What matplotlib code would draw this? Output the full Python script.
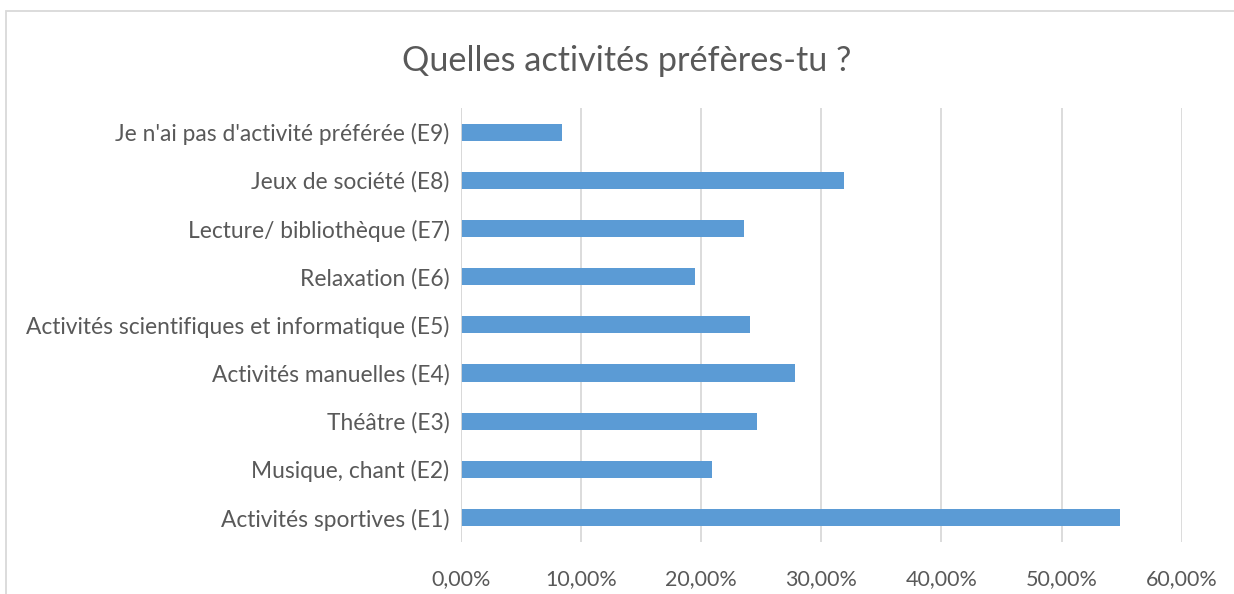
import matplotlib
matplotlib.use("Agg")
import matplotlib.pyplot as plt
from matplotlib.patches import Rectangle
from matplotlib.ticker import FuncFormatter, MultipleLocator

# data, bottom to top
categories = [
    "Activités sportives (E1)",
    "Musique, chant (E2)",
    "Théâtre (E3)",
    "Activités manuelles (E4)",
    "Activités scientifiques et informatique (E5)",
    "Relaxation (E6)",
    "Lecture/ bibliothèque (E7)",
    "Jeux de société (E8)",
    "Je n'ai pas d'activité préférée (E9)",
]
shares = [0.5485, 0.2093, 0.2470, 0.2784, 0.2410, 0.1949, 0.2357, 0.3190, 0.0843]

title = "Quelles activités préfères-tu ?"
grey = "#595959"

plt.rcParams['font.family'] = ['Lato', 'DejaVu Sans']

fig = plt.figure(figsize=(12.34, 5.94), dpi=100)
ax = fig.add_axes([0.3733, 0.088, 0.9576 - 0.3733, 0.8182 - 0.088])

ax.barh(range(len(categories)), shares, height=0.355, color="#5b9bd5", zorder=3)

ax.set_xlim(0, 0.6)
ax.set_ylim(-0.5, len(categories) - 0.5)
ax.xaxis.set_major_locator(MultipleLocator(0.1))
ax.xaxis.set_major_formatter(FuncFormatter(lambda v, p: f"{v*100:.2f}%".replace(".", ",")))
ax.grid(axis="x", color="#d9d9d9", linewidth=1.3, zorder=0)
ax.set_yticks(range(len(categories)))
ax.set_yticklabels(categories)

for s in ax.spines.values():
    s.set_visible(False)
ax.tick_params(axis="both", length=0, colors=grey)
ax.tick_params(axis="x", pad=20, labelsize=15.5)
ax.tick_params(axis="y", pad=8, labelsize=16.4)

# left axis line
ax.axvline(0, color="#d9d9d9", linewidth=1.3, zorder=4)

fig.text(0.508, 0.897, title, ha="center", va="center", fontsize=24.7, color=grey)

# chart frame (cut by the screenshot on the right and bottom)
fig.patches.append(Rectangle((6 / 1234, -0.1), 1.2, 1 - 11 / 594 + 0.1,
                             transform=fig.transFigure, fill=False,
                             edgecolor="#d9d9d9", linewidth=1.3))

fig.savefig("out.png", dpi=100, facecolor="white")
